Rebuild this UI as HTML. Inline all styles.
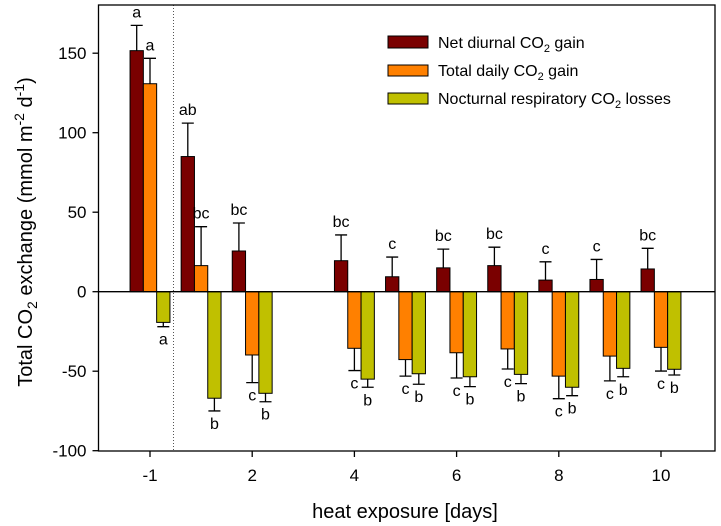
<!DOCTYPE html>
<html><head><meta charset="utf-8"><style>
body{margin:0;background:#fff;}
svg{display:block;font-family:"Liberation Sans",Arial,sans-serif;}
</style></head><body>
<svg id="chart" width="721" height="526" viewBox="0 0 721 526" xmlns="http://www.w3.org/2000/svg">
<g id="marks"></g>
<g id="axes"></g>
<g>
  <rect x="388" y="36" width="40" height="12" fill="#7a0000" stroke="#000"/>
  <text x="438" y="48" font-size="16">Net diurnal CO<tspan font-size="11" dy="4">2</tspan><tspan dy="-4"> gain</tspan></text>
  <rect x="388" y="65" width="40" height="11" fill="#ff8000" stroke="#000"/>
  <text x="438" y="76" font-size="16">Total daily CO<tspan font-size="11" dy="4">2</tspan><tspan dy="-4"> gain</tspan></text>
  <rect x="388" y="93" width="40" height="11" fill="#c0c000" stroke="#000"/>
  <text x="438" y="104" font-size="16">Nocturnal respiratory CO<tspan font-size="11" dy="4">2</tspan><tspan dy="-4"> losses</tspan></text>
</g>
<text transform="translate(32,232) rotate(-90)" text-anchor="middle" font-size="20">Total CO<tspan font-size="14" dy="5">2</tspan><tspan dy="-5"> exchange (mmol m</tspan><tspan font-size="14" dy="-8">-2</tspan><tspan dy="8"> d</tspan><tspan font-size="14" dy="-8">-1</tspan><tspan dy="8">)</tspan></text>
<text x="405" y="518" text-anchor="middle" font-size="20">heat exposure [days]</text>
</svg>
<script>
const days = [-1, 1, 2, 4, 5, 6, 7, 8, 9, 10];
const netGain = [151.6, 85, 25.6, 19.5, 9.4, 15, 16.4, 7.3, 7.7, 14.3];
const netErr = [167.5, 106, 43.2, 35.7, 21.8, 26.8, 28, 18.8, 20.3, 27.3];
const totalGain = [130.8, 16.4, -39.8, -35.6, -42.7, -38.4, -36, -53.1, -40.5, -35];
const totalErr = [146.8, 40.9, -57.2, -49.6, -53.1, -54.3, -48.6, -67.3, -56.1, -49.9];
const nightLoss = [-19.3, -67, -63.9, -55, -51.6, -53.5, -52, -60.1, -48.2, -48.8];
const nightErr = [-22, -75, -69.2, -60.1, -58.2, -59.7, -57.8, -65.4, -53.5, -52.4];
const netLetters = ["a","ab","bc","bc","c","bc","bc","c","c","bc"];
const totalLetters = ["a","bc","c","c","c","c","c","c","c","c"];
const nightLetters = ["a","b","b","b","b","b","b","b","b","b"];
const yTicks = [-100, -50, 0, 50, 100, 150];
const xTicks = [-1, 2, 4, 6, 8, 10];

const NS = "http://www.w3.org/2000/svg";
const L = 98.5, R = 715, T = 5, B = 451;
const y0 = 291.7, ys = 1.59;
function Y(v){ return y0 - v * ys; }
function X(d){ return 150 + 51.1 * Math.max(d, 0); }
function mk(tag, attrs, parent){
  const e = document.createElementNS(NS, tag);
  for (const k in attrs) e.setAttribute(k, attrs[k]);
  parent.appendChild(e); return e;
}
const marks = document.getElementById('marks');
const axes = document.getElementById('axes');

const sep = mk('line', {x1:173.5, x2:173.5, y1:T, y2:B, stroke:'#555', 'stroke-dasharray':'1,2', 'stroke-width':1}, axes);



const series = [
  {vals: netGain, errs: netErr, letters: netLetters, color:'#7a0000', name:'net'},
  {vals: totalGain, errs: totalErr, letters: totalLetters, color:'#ff8000', name:'total'},
  {vals: nightLoss, errs: nightErr, letters: nightLetters, color:'#c0c000', name:'nocturnal'}
];
const bw = 13.3;
days.forEach((d, i) => {
  series.forEach((s, j) => {
    const cx = X(d) + (j - 1) * bw;
    const v = s.vals[i], e = s.errs[i];
    const bar = mk('rect', {x: cx - bw/2, y: Math.min(Y(v), y0), width: bw, height: Math.abs(Y(v) - y0), fill: s.color, stroke:'#000', 'stroke-width':1}, marks);
    
    
    const eb = mk('path', {d: 'M' + cx + ' ' + Y(v) + 'V' + Y(e) + 'M' + (cx - 6) + ' ' + Y(e) + 'H' + (cx + 6), stroke:'#000', 'stroke-width':1.3, fill:'none'}, marks);
    
    
    const ty = v >= 0 ? Y(e) - 8 : Y(e) + 18;
    const t = mk('text', {x: cx, y: ty, 'text-anchor':'middle', 'font-size':16}, marks);
    t.textContent = s.letters[i];
    
    
  });
});

const zl = mk('line', {x1:L, x2:R, y1:y0, y2:y0, stroke:'#000', 'stroke-width':1.3}, axes);


const fr = mk('rect', {x:L, y:T, width:R-L, height:B-T, fill:'none', stroke:'#000', 'stroke-width':1.3}, axes);



yTicks.forEach(v => {
  const tk = mk('line', {x1:L-6, x2:L, y1:Y(v), y2:Y(v), stroke:'#000', 'stroke-width':1.3}, axes);
  
  
  const t = mk('text', {x:L-12, y:Y(v)+6, 'text-anchor':'end', 'font-size':17}, axes);
  t.textContent = v;
  
  
});
xTicks.forEach(d => {
  const tk = mk('line', {x1:X(d), x2:X(d), y1:B, y2:B+6, stroke:'#000', 'stroke-width':1.3}, axes);
  
  
  const t = mk('text', {x:X(d), y:B+30, 'text-anchor':'middle', 'font-size':17}, axes);
  t.textContent = d;
  
  
});
</script>
</body></html>
